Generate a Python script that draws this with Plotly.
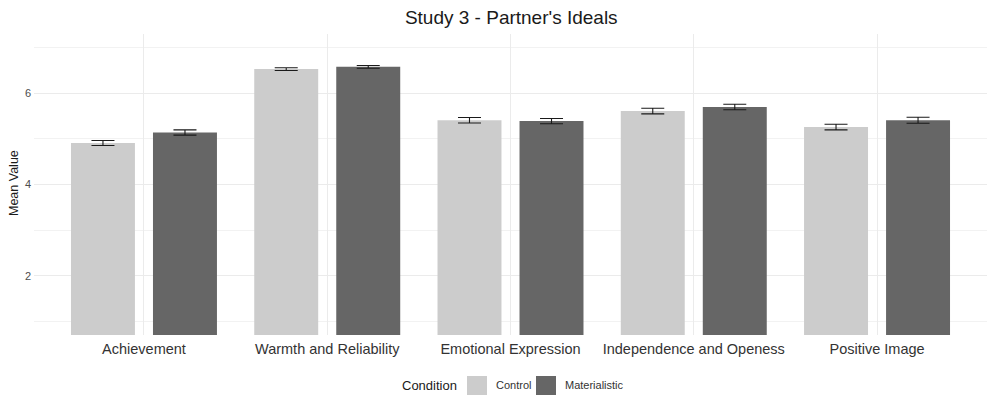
import plotly.graph_objects as go

categories = ["Achievement", "Warmth and Reliability", "Emotional Expression",
              "Independence and Openess", "Positive Image"]
conditions = ["Control", "Materialistic"]
control_mean = [4.91, 6.53, 5.41, 5.61, 5.26]
control_se = [0.055, 0.03, 0.06, 0.062, 0.062]
material_mean = [5.14, 6.58, 5.39, 5.70, 5.41]
material_se = [0.057, 0.03, 0.058, 0.06, 0.066]
colors = ["#cccccc", "#666666"]
y_ticks = [2, 4, 6]
y_minor = [1, 3, 5, 7]

FONT = "Liberation Sans, Arial, sans-serif"
W, H = 987, 398
ML, MR, MT, MB = 34, 0, 34, 63
PW, PH = W - ML - MR, H - MT - MB

fig = go.Figure()
for name, mean, se, col in zip(conditions, [control_mean, material_mean],
                               [control_se, material_se], colors):
    fig.add_trace(go.Bar(
        x=categories, y=mean, name=name, marker=dict(color=col, line=dict(width=0)),
        error_y=dict(type="data", array=se, visible=True, color="#1a1a1a",
                     thickness=1.1, width=11.5),
        showlegend=False,
    ))

def px_x(p):
    return (p - ML) / PW

def px_y(p):
    return (H - MB - p) / PH

shapes = []
annotations = [dict(text="Condition", x=px_x(459), y=px_y(385), xref="paper", yref="paper",
                    xanchor="right", yanchor="middle", showarrow=False,
                    font=dict(family=FONT, size=13, color="#1a1a1a"))]
sw = [(467, 487), (536, 556)]
tx = [494, 563]
for (x0, x1), t, name, col in zip(sw, tx, conditions, colors):
    shapes.append(dict(type="rect", xref="paper", yref="paper",
                       x0=px_x(x0), x1=px_x(x1), y0=px_y(376), y1=px_y(395),
                       fillcolor=col, line=dict(width=0)))
    annotations.append(dict(text=name, x=px_x(t), y=px_y(385), xref="paper", yref="paper",
                            xanchor="left", yanchor="middle", showarrow=False,
                            font=dict(family=FONT, size=11, color="#333333")))
annotations.append(dict(text="Mean Value", x=px_x(14), y=px_y(183), xref="paper", yref="paper",
                        xanchor="center", yanchor="middle", textangle=-90, showarrow=False,
                        font=dict(family=FONT, size=12.5, color="#1a1a1a")))

fig.update_layout(
    width=W, height=H,
    margin=dict(l=ML, r=MR, t=MT, b=MB),
    paper_bgcolor="white", plot_bgcolor="white",
    barmode="group", bargap=0.105, bargroupgap=0.22,
    title=dict(text="Study 3 - Partner's Ideals", x=0.518, xanchor="center",
               y=1 - 17 / H, yanchor="middle",
               font=dict(family=FONT, size=19, color="#1a1a1a")),
    font=dict(family=FONT),
    shapes=shapes, annotations=annotations,
    xaxis=dict(range=[-0.6, 4.6], showgrid=True, gridcolor="#ebebeb", gridwidth=1,
               zeroline=False, showline=False, ticks="", ticklabelstandoff=3,
               tickfont=dict(family=FONT, size=14.5, color="#333333")),
    yaxis=dict(range=[0.7, 7.3], tickvals=y_ticks, showgrid=True, gridcolor="#ebebeb",
               gridwidth=1, zeroline=False, showline=False, ticks="", ticklabelstandoff=2,
               tickfont=dict(family=FONT, size=11, color="#4d4d4d"),
               minor=dict(tickvals=y_minor, showgrid=True, gridcolor="#f2f2f2", gridwidth=1)),
)

fig.write_html("out.html")
